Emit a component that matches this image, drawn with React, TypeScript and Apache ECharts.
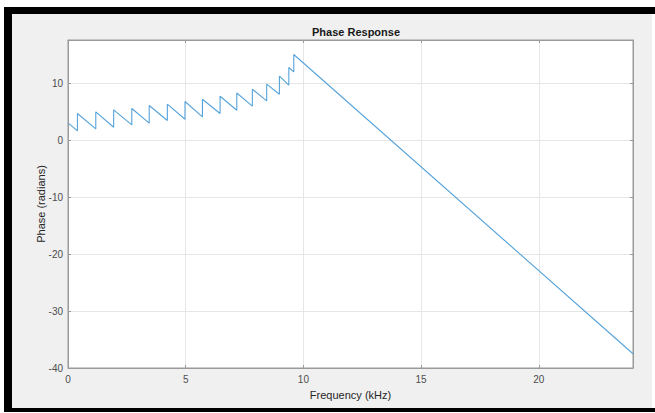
import React, { useEffect, useRef } from "react";
import * as echarts from "echarts";

// Phase response (radians) vs frequency (kHz)
const startPoint = [0, 3.04];
const jumpFreqs = [0.4, 1.18, 1.94, 2.71, 3.45, 4.22, 4.97, 5.71, 6.46, 7.17, 7.83, 8.44, 8.98, 9.38, 9.59];
const phaseBeforeJump = [1.63, 1.99, 2.28, 2.69, 2.99, 3.46, 3.69, 4.1, 4.69, 5.27, 5.98, 6.9, 8.08, 9.67, 12.0];
const phaseAfterJump = [4.69, 4.98, 5.33, 5.57, 6.09, 6.33, 6.8, 7.2, 7.73, 8.3, 8.96, 9.84, 11.25, 12.77, 15.06];
const endPoint = [24, -37.5];

const xTicks = [0, 5, 10, 15, 20];
const yTicks = [-40, -30, -20, -10, 0, 10];

export default function App() {
  const ref = useRef<HTMLDivElement>(null);
  useEffect(() => {
    if (!ref.current) return;
    const chart = echarts.init(ref.current, undefined, { renderer: "svg" });
    const data: number[][] = [startPoint];
    jumpFreqs.forEach((f, i) => {
      data.push([f, phaseBeforeJump[i]]);
      data.push([f, phaseAfterJump[i]]);
    });
    data.push(endPoint);

    const font = "'Liberation Sans', Arial, Helvetica, sans-serif";
    const axisCol = "#9a9a9a";
    const labelCol = "#4d4d4d";
    const xFmt = (v: number) => (xTicks.includes(v) ? String(v) : "");
    const yFmt = (v: number) => (yTicks.includes(v) ? String(v) : "");

    chart.setOption({
      animation: false,
      backgroundColor: "#ffffff",
      graphic: [
        { type: "rect", z: -10, shape: { x: 4, y: 7, width: 651, height: 7 }, style: { fill: "#000" } },
        { type: "rect", z: -10, shape: { x: 4, y: 7, width: 8, height: 405 }, style: { fill: "#000" } },
        { type: "rect", z: -10, shape: { x: 4, y: 408, width: 651, height: 4 }, style: { fill: "#000" } },
        { type: "rect", z: -10, shape: { x: 12, y: 14, width: 640, height: 394 }, style: { fill: "#f0f0f0" } },
      ],
      title: {
        text: "Phase Response",
        left: 351,
        top: 21,
        textAlign: "center",
        textStyle: { fontFamily: font, fontSize: 11, fontWeight: "bold", color: "#1a1a1a" },
      },
      grid: {
        left: 68,
        top: 40,
        right: 22,
        bottom: 45,
        show: true,
        backgroundColor: "#ffffff",
        borderColor: axisCol,
        borderWidth: 1,
      },
      xAxis: [
        {
          type: "value",
          min: 0,
          max: 24,
          interval: 5,
          name: "Frequency (kHz)",
          nameLocation: "middle",
          nameGap: 21,
          nameMoveOverlap: false,
          nameTextStyle: { fontFamily: font, fontSize: 11, color: "#262626" },
          axisLine: { show: true, onZero: false, lineStyle: { color: axisCol, width: 1 } },
          axisTick: { show: true, inside: true, length: 3, lineStyle: { color: axisCol } },
          axisLabel: { formatter: xFmt, color: labelCol, fontFamily: font, fontSize: 10, margin: 6, showMaxLabel: false },
          splitLine: { show: true, lineStyle: { color: "#e6e6e6", width: 1 } },
        },
        {
          type: "value",
          position: "top",
          min: 0,
          max: 24,
          interval: 5,
          axisLine: { show: true, onZero: false, lineStyle: { color: axisCol, width: 1 } },
          axisTick: { show: true, inside: true, length: 3, lineStyle: { color: axisCol } },
          axisLabel: { show: false },
          splitLine: { show: false },
        },
      ],
      yAxis: [
        {
          type: "value",
          min: -40,
          max: 17.6,
          interval: 10,
          name: "Phase (radians)",
          nameLocation: "middle",
          nameGap: 22,
          nameMoveOverlap: false,
          nameTextStyle: { fontFamily: font, fontSize: 11, color: "#262626" },
          axisLine: { show: true, onZero: false, lineStyle: { color: axisCol, width: 1 } },
          axisTick: { show: true, inside: true, length: 3, lineStyle: { color: axisCol } },
          axisLabel: { formatter: yFmt, color: labelCol, fontFamily: font, fontSize: 10, margin: 5, showMaxLabel: false },
          splitLine: { show: true, lineStyle: { color: "#e6e6e6", width: 1 } },
        },
        {
          type: "value",
          position: "right",
          min: -40,
          max: 17.6,
          interval: 10,
          axisLine: { show: true, onZero: false, lineStyle: { color: axisCol, width: 1 } },
          axisTick: { show: true, inside: true, length: 3, lineStyle: { color: axisCol } },
          axisLabel: { show: false },
          splitLine: { show: false },
        },
      ],
      series: [
        {
          type: "line",
          xAxisIndex: 0,
          yAxisIndex: 0,
          data,
          showSymbol: false,
          symbol: "none",
          lineStyle: { color: "#55a3da", width: 1.1 },
        },
      ],
    });
    return () => chart.dispose();
  }, []);
  return (
    <div
      ref={ref}
      style={{ position: "absolute", left: 0, top: 0, width: 655, height: 413 }}
    />
  );
}
